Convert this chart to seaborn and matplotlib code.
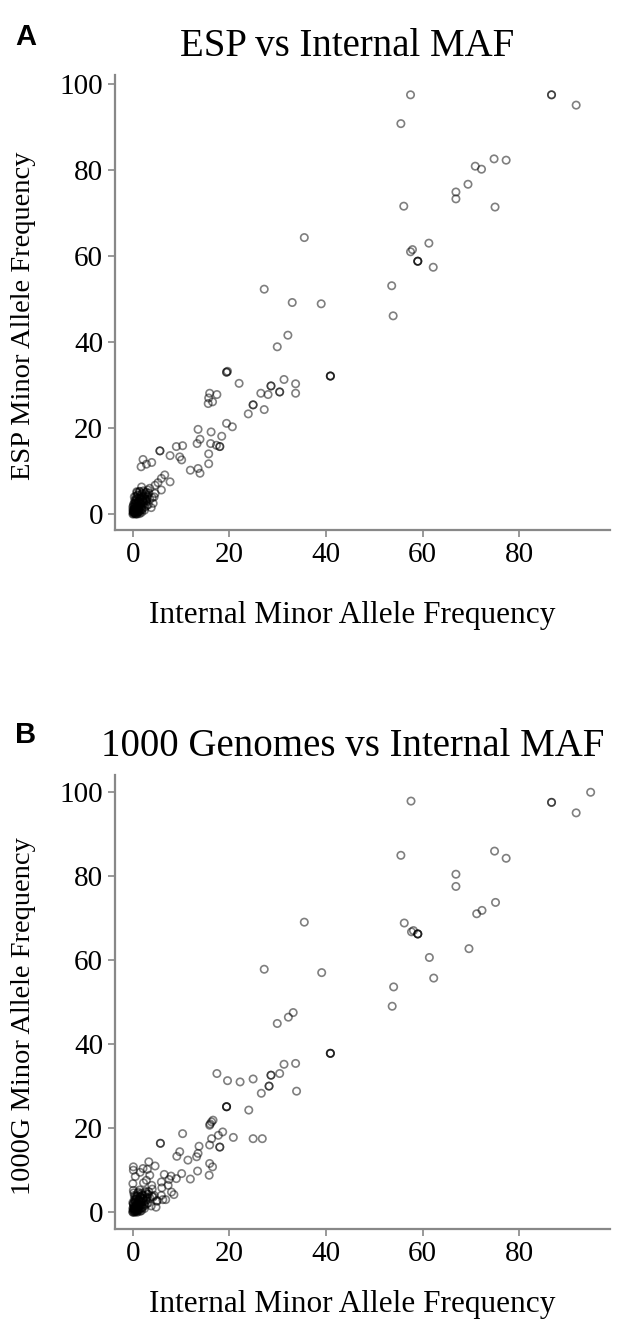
import numpy as np
import pandas as pd
import seaborn as sns
import matplotlib.pyplot as plt

# Panel A : ESP vs internal MAF
internal_a = [57.5, 86.7, 86.7, 91.8, 55.5, 74.8, 77.3, 70.9, 72.2, 69.4, 66.9, 66.9, 56.1, 75.0,
              61.3, 57.5, 57.9, 59.0, 59.0, 59.0, 62.2, 53.6, 53.9,
              35.5, 27.2, 33.0, 39.0, 32.1, 29.9, 19.4, 19.4, 19.6, 22.0, 40.9, 40.9, 40.9, 31.3,
              33.7, 33.7, 28.6, 28.6, 28.0, 30.4, 30.4, 26.5, 24.9, 24.9, 23.9, 27.2, 15.9, 17.4,
              15.7, 16.5, 15.6, 19.4, 20.6, 13.5, 16.2, 18.4, 13.9, 13.3, 16.1, 17.3, 18.0, 18.0,
              15.7, 15.7, 11.9, 13.5, 13.9,
              5.6, 5.6, 7.7, 9.0, 10.3, 9.7, 10.1, 2.1, 1.7, 2.8, 3.9, 6.6, 5.9, 7.7, 5.2, 4.6,
              3.5, 5.9, 4.6, 4.2, 2.8, 1.8, 0.8,
              0.0, 0.2, 0.5, 0.3, 0.8, 1.0, 0.4, 1.3, 1.6, 0.7, 1.9, 2.2, 1.2, 0.1, 2.5, 2.8, 1.5,
              0.6, 2.0, 3.2, 3.0, 1.0, 0.2, 0.9, 1.8, 2.4, 3.5, 3.8, 0.3, 1.4, 2.6, 0.5, 1.1, 0.0,
              0.4, 2.1, 1.7, 0.8, 3.3, 2.9, 4.0, 0.1, 0.6, 1.3, 4.4]
esp_a = [97.5, 97.5, 97.5, 95.1, 90.8, 82.6, 82.3, 80.9, 80.2, 76.7, 74.9, 73.3, 71.6, 71.4,
         63.0, 61.0, 61.5, 58.8, 58.8, 58.8, 57.4, 53.1, 46.1,
         64.3, 52.3, 49.2, 48.9, 41.6, 38.9, 33.0, 33.0, 33.2, 30.4, 32.1, 32.1, 32.1, 31.3,
         30.3, 28.1, 29.8, 29.8, 27.8, 28.4, 28.4, 28.1, 25.4, 25.4, 23.3, 24.3, 28.1, 27.8,
         27.0, 26.1, 25.7, 21.1, 20.3, 19.7, 19.1, 18.1, 17.4, 16.4, 16.4, 16.0, 15.7, 15.7,
         14.0, 11.7, 10.2, 10.6, 9.5,
         14.7, 14.7, 13.6, 15.7, 15.9, 13.3, 12.6, 12.7, 11.0, 11.6, 12.0, 9.1, 8.3, 7.5, 7.3, 6.7,
         6.0, 5.6, 4.8, 2.5, 3.3, 6.3, 5.2,
         0.0, 0.3, 0.1, 0.8, 0.5, 1.2, 1.5, 0.6, 1.8, 2.2, 1.0, 2.5, 2.9, 2.0, 1.6, 3.0, 3.6,
         3.1, 4.0, 2.2, 4.3, 4.5, 1.1, 0.0, 0.4, 0.9, 3.4, 1.5, 4.0, 5.3, 5.0, 0.6, 1.9, 0.9,
         2.6, 3.2, 2.4, 3.7, 4.9, 2.0, 3.8, 0.4, 1.3, 1.1, 4.0]

# dense blob of near-zero variants (panel A)
core_x_a = [0.1, 0.4, 0.6, 0.9, 1.1, 1.4, 0.2, 0.5, 0.8, 1.2, 1.5, 1.9, 0.0, 0.3, 0.7, 1.0, 1.3,
            1.7, 2.1, 0.2, 0.6, 0.9, 1.4, 1.8, 2.2, 2.5, 0.4, 0.8, 1.1, 1.6, 2.0, 2.4, 2.7, 0.6,
            1.0, 1.3, 1.7, 2.3, 2.6, 3.0, 0.9, 1.4, 1.9, 2.2, 2.8, 3.1, 0.1, 0.3, 0.5, 0.2]
core_y_a = [0.1, 0.3, 0.0, 0.2, 0.4, 0.1, 0.9, 1.1, 0.8, 1.0, 0.7, 1.2, 1.6, 1.8, 1.5, 1.9, 1.7,
            1.4, 2.0, 2.4, 2.6, 2.3, 2.7, 2.5, 2.8, 3.1, 3.2, 3.4, 3.0, 3.6, 3.3, 3.8, 3.5, 4.1,
            4.3, 3.9, 4.4, 4.2, 4.6, 4.0, 5.0, 5.2, 4.8, 5.4, 5.1, 5.6, 0.5, 1.3, 2.2, 0.6]

# Panel B : 1000 Genomes vs internal MAF
internal_b = [57.6, 86.7, 86.7, 94.8, 91.8, 55.5, 74.9, 77.3, 66.9, 66.9, 75.1, 72.3, 71.2, 56.2,
              57.7, 58.1, 59.0, 59.0, 59.0, 69.6, 61.4, 62.3, 54.0, 53.7,
              35.5, 27.2, 39.1, 33.2, 32.2, 29.9, 40.9, 40.9, 40.9, 31.3, 33.7, 33.9, 17.4, 19.6,
              22.2, 24.9, 28.6, 28.6, 30.4, 28.2, 28.2, 26.6, 19.4, 19.4, 19.4, 24.0, 16.3, 15.9,
              16.6, 16.0, 10.3, 18.6, 17.7, 16.3, 20.8, 24.9, 26.8, 13.7, 15.9, 18.0, 18.0, 9.7,
              9.1, 13.5, 13.2, 11.4, 15.9, 16.5, 13.4, 15.8, 11.9, 10.1,
              5.7, 5.7, 4.6, 0.1, 0.1, 2.1, 7.9, 3.5, 2.8, 3.9, 5.9, 7.3, 8.0, 5.9, 4.2, 0.0, 0.1,
              1.5, 3.0, 6.5, 4.0, 6.0, 7.5, 2.2, 9.0, 3.3, 0.5, 8.5, 5.0, 6.8,
              0.0, 0.2, 0.5, 0.3, 0.8, 1.0, 0.4, 1.3, 1.6, 0.7, 1.9, 2.2, 1.2, 0.1, 2.5, 2.8, 1.5,
              0.6, 2.0, 3.2, 3.0, 1.0, 0.2, 0.9, 1.8, 2.4, 3.5, 3.8, 0.3, 1.4, 2.6, 0.5, 1.1, 0.0,
              0.4, 2.1, 1.7, 0.8, 3.3, 2.9, 4.0, 0.1, 0.6, 1.3, 4.4, 5.0, 6.2, 4.8]
g1000_b = [97.8, 97.5, 97.5, 99.9, 95.0, 84.9, 85.9, 84.2, 80.4, 77.5, 73.7, 71.8, 71.0, 68.8,
           66.7, 67.0, 66.2, 66.2, 66.2, 62.7, 60.6, 55.7, 53.6, 49.0,
           69.0, 57.8, 57.0, 47.5, 46.4, 44.9, 37.8, 37.8, 37.8, 35.2, 35.4, 28.8, 33.0, 31.3,
           31.0, 31.7, 32.6, 32.6, 33.0, 30.0, 30.0, 28.3, 25.1, 25.1, 25.1, 24.3, 21.5, 20.7,
           21.9, 21.0, 18.7, 19.1, 18.3, 17.5, 17.8, 17.5, 17.5, 15.7, 16.0, 15.5, 15.5, 14.4,
           13.3, 14.0, 13.2, 12.4, 11.6, 10.8, 9.8, 8.8, 7.9, 9.2,
           16.4, 16.4, 11.0, 10.8, 10.0, 10.4, 8.6, 8.8, 7.6, 6.4, 7.2, 6.4, 4.8, 4.0, 3.6, 6.8, 5.2,
           9.5, 10.2, 9.0, 5.5, 5.8, 7.8, 7.0, 8.0, 12.0, 8.5, 4.2, 2.8, 3.0,
           0.0, 0.3, 0.1, 0.8, 0.5, 1.2, 1.5, 0.6, 1.8, 2.2, 1.0, 2.5, 2.9, 2.0, 1.6, 3.0, 3.6,
           3.1, 4.0, 2.2, 4.3, 4.5, 1.1, 0.0, 0.4, 0.9, 3.4, 1.5, 4.0, 5.3, 5.0, 0.6, 1.9, 0.9,
           2.6, 3.2, 2.4, 3.7, 4.9, 2.0, 3.8, 0.4, 1.3, 1.1, 4.0, 2.6, 3.0, 1.2]

# dense blob of near-zero variants (panel B)
core_x_b = [0.0, 0.3, 0.5, 0.8, 1.2, 1.5, 0.1, 0.4, 0.9, 1.1, 1.6, 2.0, 0.2, 0.6, 0.8, 1.3, 1.8,
            2.3, 0.0, 0.5, 1.0, 1.4, 1.9, 2.6, 0.3, 0.7, 1.2, 1.7, 2.2, 2.9, 0.5, 0.9, 1.5, 2.0,
            2.5, 3.2, 0.2, 1.1, 1.8, 2.7, 0.4, 0.6, 0.1, 1.0]
core_y_b = [0.1, 0.0, 0.3, 0.2, 0.4, 0.2, 0.8, 1.0, 0.7, 1.1, 0.9, 1.2, 1.6, 1.4, 1.8, 1.5, 1.7,
            1.9, 2.3, 2.5, 2.2, 2.6, 2.4, 2.8, 3.0, 3.2, 2.9, 3.3, 3.1, 3.5, 3.8, 4.0, 3.7, 4.1,
            3.9, 4.3, 4.6, 4.8, 4.5, 4.7, 0.5, 1.3, 2.0, 0.6]

ticks_x = [0, 20, 40, 60, 80]
ticks_y = [0, 20, 40, 60, 80, 100]

sns.set_style("ticks")
plt.rcParams['font.family'] = ['Liberation Serif', 'DejaVu Serif']
plt.rcParams['text.color'] = 'black'
plt.rcParams['axes.labelcolor'] = 'black'

fig = plt.figure(figsize=(6.17, 13.21), dpi=100)
ax_a = fig.add_axes([0.1864, 0.5988, 0.8022, 0.3444])
ax_b = fig.add_axes([0.1864, 0.0696, 0.8022, 0.3437])

df_a = pd.DataFrame({"internal": internal_a + core_x_a, "other": esp_a + core_y_a})
df_b = pd.DataFrame({"internal": internal_b + core_x_b, "other": g1000_b + core_y_b})

panels = [
    (ax_a, df_a, "ESP Minor Allele Frequency", (-3.7, 102.1)),
    (ax_b, df_b, "1000G Minor Allele Frequency", (-4.0, 104.0)),
]

for ax, df, ylab, ylim in panels:
    sns.scatterplot(data=df, x="internal", y="other", ax=ax, s=28,
                    facecolor="none", edgecolor=(0, 0, 0, 0.5), linewidth=1.2)
    ax.set_xlim(-3.7, 98.8)
    ax.set_ylim(*ylim)
    ax.set_xticks(ticks_x)
    ax.set_yticks(ticks_y)
    ax.tick_params(labelsize=21, length=5, width=1.2, color="#888888",
                   labelcolor="black", direction="out")
    for side in ["top", "right"]:
        ax.spines[side].set_visible(False)
    for side in ["left", "bottom"]:
        ax.spines[side].set_color("#888888")
        ax.spines[side].set_linewidth(1.6)
    ax.set_xlabel("Internal Minor Allele Frequency", fontsize=22.5)
    ax.set_ylabel(ylab, fontsize=20.5)
    ax.yaxis.set_label_coords(-0.16, 0.47)

ax_a.xaxis.set_label_coords(0.48, -0.155)
ax_b.xaxis.set_label_coords(0.48, -0.135)

fig.text(0.563, 0.9650, "ESP vs Internal MAF", ha="center", va="center", fontsize=28)
fig.text(0.572, 0.4350, "1000 Genomes vs Internal MAF", ha="center", va="center", fontsize=28)
fig.text(0.042, 0.972, "A", ha="center", va="center", fontsize=21, fontweight="bold",
         family=["Liberation Sans", "DejaVu Sans"])
fig.text(0.042, 0.4436, "B", ha="center", va="center", fontsize=21, fontweight="bold",
         family=["Liberation Sans", "DejaVu Sans"])

plt.savefig("out.png", dpi=100)
